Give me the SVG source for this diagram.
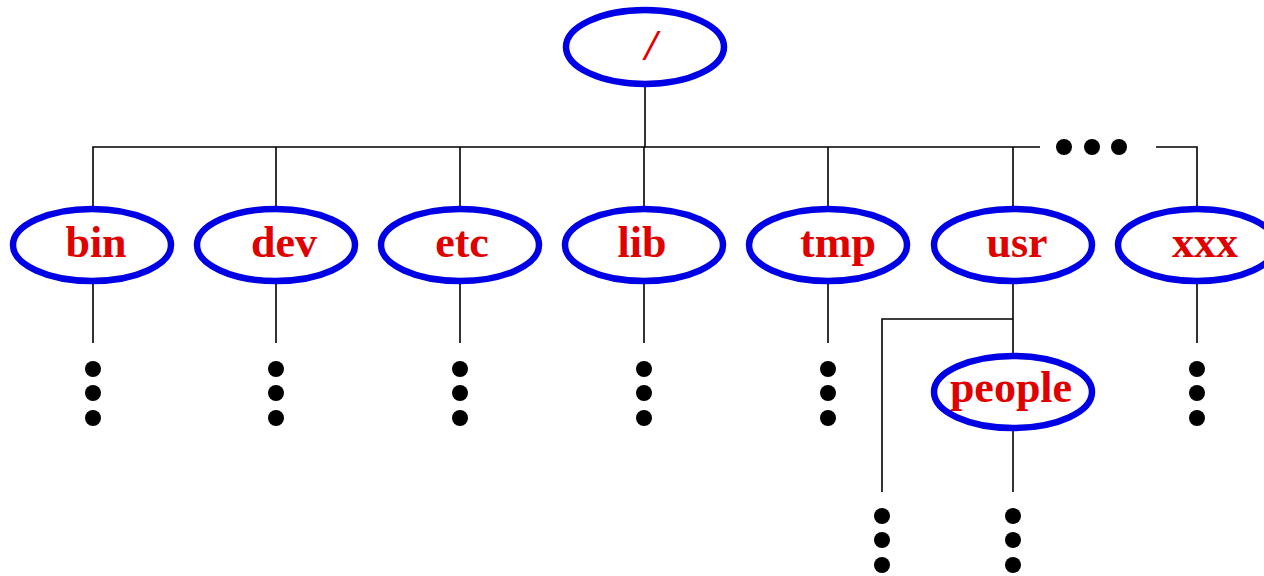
<svg xmlns="http://www.w3.org/2000/svg" width="1264" height="576" viewBox="0 0 1264 576">
  <style>
    .node { fill: #ffffff; stroke: #0000e6; stroke-width: 6.5; }
    .label { font-family: "Liberation Serif", "Times New Roman", serif; font-weight: bold; font-size: 44px; fill: #e00000; text-anchor: middle; }
    .wire { fill: none; stroke: #000000; stroke-width: 1.6; }
    .dot { fill: #000000; }
  </style>
  <defs>
    <g id="vdots">
      <circle class="dot" cx="0" cy="0" r="8"/>
      <circle class="dot" cx="0" cy="24" r="8"/>
      <circle class="dot" cx="0" cy="49" r="8"/>
    </g>
  </defs>

  <!-- connectors -->
  <g id="connectors">
    <path class="wire" d="M645 84 V147"/>
    <path class="wire" d="M93 208 V147 H1040"/>
    <path class="wire" d="M1156 147 H1197 V208"/>
    <path class="wire" d="M276 147 V208 M460 147 V208 M644 147 V208 M828 147 V208 M1013 147 V208"/>
    <path class="wire" d="M93 282 V343 M276 282 V343 M460 282 V343 M644 282 V343 M828 282 V343 M1197 282 V343"/>
    <path class="wire" d="M1013 282 V356 M1013 319 H882 V492"/>
    <path class="wire" d="M1013 428 V492"/>
  </g>

  <!-- elided siblings and subtrees -->
  <g id="ellipses">
    <circle class="dot" cx="1064" cy="147" r="8"/>
    <circle class="dot" cx="1092" cy="147" r="8"/>
    <circle class="dot" cx="1119" cy="147" r="8"/>
    <use href="#vdots" x="93" y="369"/>
    <use href="#vdots" x="276" y="369"/>
    <use href="#vdots" x="460" y="369"/>
    <use href="#vdots" x="644" y="369"/>
    <use href="#vdots" x="828" y="369"/>
    <use href="#vdots" x="1197" y="369"/>
    <use href="#vdots" x="882" y="516"/>
    <use href="#vdots" x="1013" y="516"/>
  </g>

  <g id="root">
    <ellipse class="node" cx="645" cy="47" rx="79" ry="37"/>
    <text class="label" x="651" y="60" font-style="italic" font-weight="normal">/</text>
  </g>
  <g id="bin">
    <ellipse class="node" cx="92" cy="245" rx="79" ry="36"/>
    <text class="label" x="96" y="257">bin</text>
  </g>
  <g id="dev">
    <ellipse class="node" cx="276" cy="245" rx="79" ry="36"/>
    <text class="label" x="284" y="257">dev</text>
  </g>
  <g id="etc">
    <ellipse class="node" cx="460" cy="245" rx="79" ry="36"/>
    <text class="label" x="462" y="257">etc</text>
  </g>
  <g id="lib">
    <ellipse class="node" cx="644" cy="245" rx="79" ry="36"/>
    <text class="label" x="642" y="257">lib</text>
  </g>
  <g id="tmp">
    <ellipse class="node" cx="828" cy="245" rx="79" ry="36"/>
    <text class="label" x="838" y="257">tmp</text>
  </g>
  <g id="usr">
    <ellipse class="node" cx="1013" cy="245" rx="79" ry="36"/>
    <text class="label" x="1017" y="257">usr</text>
  </g>
  <g id="xxx">
    <ellipse class="node" cx="1197" cy="245" rx="79" ry="36"/>
    <text class="label" x="1205" y="257">xxx</text>
  </g>
  <g id="people">
    <ellipse class="node" cx="1013" cy="392" rx="79" ry="36"/>
    <text class="label" x="1011" y="402">people</text>
  </g>
</svg>
